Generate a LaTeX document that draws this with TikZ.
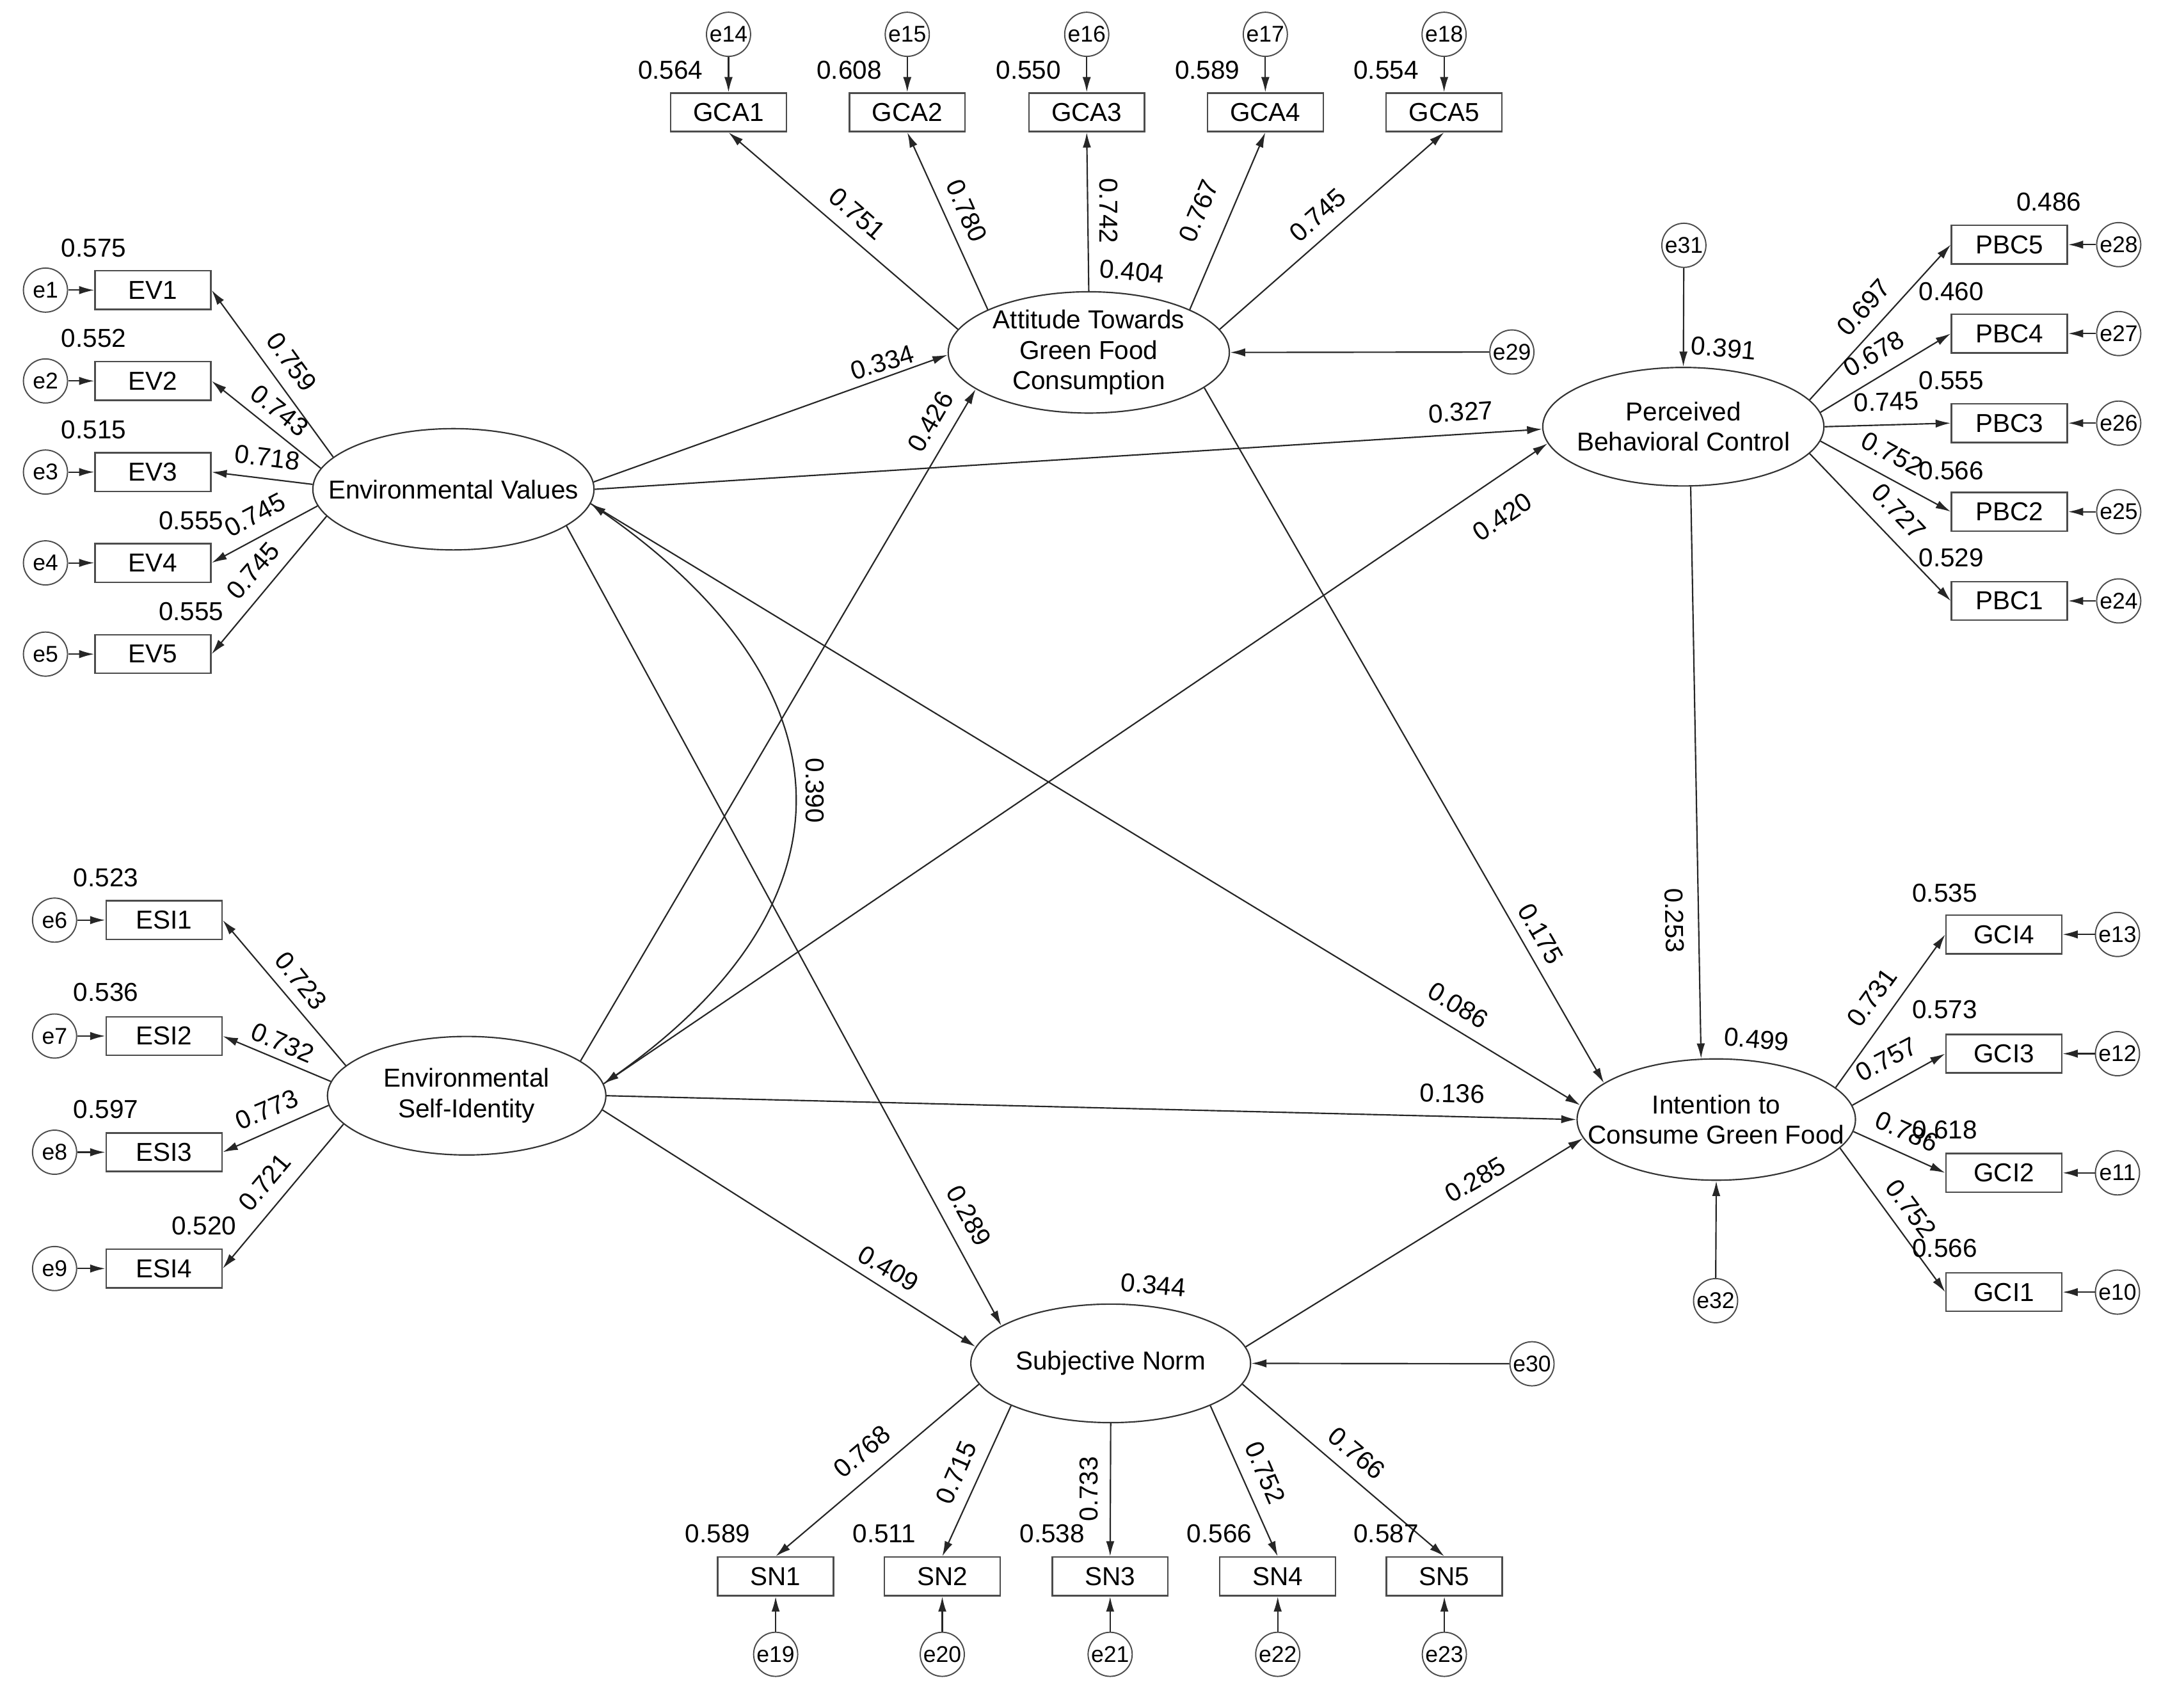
\documentclass[tikz,border=0pt]{standalone}
\usepackage{fontspec}
\setmainfont{Liberation Sans}
\usetikzlibrary{shapes.geometric,arrows.meta}
\begin{document}
\begin{tikzpicture}[x=1pt,y=-1pt,
  obs/.style={draw=black!70, line width=1.1pt, rectangle, minimum width=84pt, minimum height=28pt, inner sep=0pt, font=\fontsize{18.8}{22}\selectfont},
  err/.style={draw=black!70, line width=0.9pt, circle, minimum size=32pt, inner sep=0pt, font=\fontsize{16.5}{18}\selectfont},
  lat/.style={draw=black!80, line width=1pt, ellipse, inner sep=0pt},
  lt/.style={font=\fontsize{18.8}{22}\selectfont, align=center, inner sep=0pt},
  val/.style={font=\fontsize{18.8}{22}\selectfont, inner sep=0pt},
  pth/.style={draw=black!85, line width=1pt, -{Latex[length=11pt,width=6pt]}},
  cov/.style={draw=black!85, line width=1pt, {Latex[length=11pt,width=6pt]}-{Latex[length=11pt,width=6pt]}}
]
\useasboundingbox (0,0) rectangle (1568,1239);

% ---------- latent variables ----------
\node[lat, minimum width=204pt, minimum height=88pt] (EV) at (329,355) {};
\node[lt] (EVt) at (EV) {Environmental Values};
\node[lat, minimum width=202pt, minimum height=86pt] (ESI) at (338.6,795) {};
\node[lt] (ESIt) at (ESI) {Environmental\\Self-Identity};
\node[lat, minimum width=204pt, minimum height=88pt] (Att) at (790,255.7) {};
\node[lt] (Attt) at (Att) {Attitude Towards\\Green Food\\Consumption};
\node[lat, minimum width=204pt, minimum height=86pt] (PBC) at (1221.4,309.6) {};
\node[lt] (PBCt) at (PBC) {Perceived\\Behavioral Control};
\node[lat, minimum width=202pt, minimum height=88pt] (ICGF) at (1245.3,812.3) {};
\node[lt] (ICGFt) at (ICGF) {Intention to\\Consume Green Food};
\node[lat, minimum width=203pt, minimum height=86pt] (SN) at (805.9,989.2) {};
\node[lt] (SNt) at (SN) {Subjective Norm};

% ---------- EV indicators ----------
\node[obs] (EV1) at (111,210.5) {EV1};
\node[obs] (EV2) at (111,276.4) {EV2};
\node[obs] (EV3) at (111,342.5) {EV3};
\node[obs] (EV4) at (111,408.4) {EV4};
\node[obs] (EV5) at (111,474.6) {EV5};
\node[err] (e1) at (33,210.5) {e1};
\node[err] (e2) at (33,276.4) {e2};
\node[err] (e3) at (33,342.5) {e3};
\node[err] (e4) at (33,408.4) {e4};
\node[err] (e5) at (33,474.6) {e5};

% ---------- ESI indicators ----------
\node[obs] (ESI1) at (119,667.6) {ESI1};
\node[obs] (ESI2) at (119,751.7) {ESI2};
\node[obs] (ESI3) at (119,836) {ESI3};
\node[obs] (ESI4) at (119,920.4) {ESI4};
\node[err] (e6) at (39.6,667.6) {e6};
\node[err] (e7) at (39.6,751.7) {e7};
\node[err] (e8) at (39.6,836) {e8};
\node[err] (e9) at (39.6,920.4) {e9};

% ---------- GCA indicators ----------
\node[obs] (GCA1) at (528.6,81.5) {GCA1};
\node[obs] (GCA2) at (658.3,81.5) {GCA2};
\node[obs] (GCA3) at (788.5,81.5) {GCA3};
\node[obs] (GCA4) at (918.1,81.5) {GCA4};
\node[obs] (GCA5) at (1047.8,81.5) {GCA5};
\node[err] (e14) at (528.6,24.9) {e14};
\node[err] (e15) at (658.3,24.9) {e15};
\node[err] (e16) at (788.5,24.9) {e16};
\node[err] (e17) at (918.1,24.9) {e17};
\node[err] (e18) at (1047.8,24.9) {e18};

% ---------- PBC indicators ----------
\node[obs] (PBC5) at (1458,177.5) {PBC5};
\node[obs] (PBC4) at (1458,242) {PBC4};
\node[obs] (PBC3) at (1458,307) {PBC3};
\node[obs] (PBC2) at (1458,371.3) {PBC2};
\node[obs] (PBC1) at (1458,436) {PBC1};
\node[err] (e28) at (1537.3,177.5) {e28};
\node[err] (e27) at (1537.3,242) {e27};
\node[err] (e26) at (1537.3,307) {e26};
\node[err] (e25) at (1537.3,371.3) {e25};
\node[err] (e24) at (1537.3,436) {e24};

% ---------- GCI indicators ----------
\node[obs] (GCI4) at (1454,678) {GCI4};
\node[obs] (GCI3) at (1454,764.5) {GCI3};
\node[obs] (GCI2) at (1454,851) {GCI2};
\node[obs] (GCI1) at (1454,937.5) {GCI1};
\node[err] (e13) at (1536.4,678) {e13};
\node[err] (e12) at (1536.4,764.5) {e12};
\node[err] (e11) at (1536.4,851) {e11};
\node[err] (e10) at (1536.4,937.5) {e10};

% ---------- SN indicators ----------
\node[obs] (SN1) at (562.8,1143.8) {SN1};
\node[obs] (SN2) at (683.7,1143.8) {SN2};
\node[obs] (SN3) at (805.5,1143.8) {SN3};
\node[obs] (SN4) at (927.1,1143.8) {SN4};
\node[obs] (SN5) at (1048,1143.8) {SN5};
\node[err] (e19) at (562.8,1200.3) {e19};
\node[err] (e20) at (683.7,1200.3) {e20};
\node[err] (e21) at (805.5,1200.3) {e21};
\node[err] (e22) at (927.1,1200.3) {e22};
\node[err] (e23) at (1048,1200.3) {e23};

% ---------- disturbances ----------
\node[err] (e29) at (1097,255.4) {e29};
\node[err] (e30) at (1111.6,989.5) {e30};
\node[err] (e31) at (1221.8,178) {e31};
\node[err] (e32) at (1244.8,943.7) {e32};

% ---------- error arrows ----------
\foreach \e/\o in {e1/EV1,e2/EV2,e3/EV3,e4/EV4,e5/EV5,e6/ESI1,e7/ESI2,e8/ESI3,e9/ESI4,
  e14/GCA1,e15/GCA2,e16/GCA3,e17/GCA4,e18/GCA5,
  e28/PBC5,e27/PBC4,e26/PBC3,e25/PBC2,e24/PBC1,
  e13/GCI4,e12/GCI3,e11/GCI2,e10/GCI1,
  e19/SN1,e20/SN2,e21/SN3,e22/SN4,e23/SN5}
  \draw[pth] (\e) -- (\o);
\draw[pth] (e29) -- (Att.0);
\draw[pth] (e30) -- (SN.0);
\draw[pth] (e31) -- (PBC.90);
\draw[pth] (e32) -- (ICGF.270);

% ---------- loadings ----------
\draw[pth] (EV.165.3) -- (EV1.east);
\draw[pth] (EV.171.4) -- (EV2.east);
\draw[pth] (EV.178.4) -- (EV3.east);
\draw[pth] (EV.187.1) -- (EV4.east);
\draw[pth] (EV.192.9) -- (EV5.east);
\draw[pth] (ESI.166.7) -- (ESI1.east);
\draw[pth] (ESI.174.5) -- (ESI2.east);
\draw[pth] (ESI.184.5) -- (ESI3.east);
\draw[pth] (ESI.193.4) -- (ESI4.east);
\draw[pth] (Att.170.2) -- (GCA1.south);
\draw[pth] (Att.157.3) -- (GCA2.south);
\draw[pth] (Att.90) -- (GCA3.south);
\draw[pth] (Att.23.5) -- (GCA4.south);
\draw[pth] (Att.10.4) -- (GCA5.south);
\draw[pth] (PBC.12.2) -- (PBC5.west);
\draw[pth] (PBC.6.4) -- (PBC4.west);
\draw[pth] (PBC.0) -- (PBC3.west);
\draw[pth] (PBC.-6.4) -- (PBC2.west);
\draw[pth] (PBC.-12.8) -- (PBC1.west);
\draw[pth] (ICGF.15.3) -- (GCI4.west);
\draw[pth] (ICGF.6.4) -- (GCI3.west);
\draw[pth] (ICGF.-5.5) -- (GCI2.west);
\draw[pth] (ICGF.-13.9) -- (GCI1.west);
\draw[pth] (SN.189.6) -- (SN1.north);
\draw[pth] (SN.203.3) -- (SN2.north);
\draw[pth] (SN.270) -- (SN3.north);
\draw[pth] (SN.-23.3) -- (SN4.north);
\draw[pth] (SN.-9.6) -- (SN5.north);

% ---------- structural paths ----------
\draw[pth] (EV.3) -- (Att.181);
\draw[pth] (EV.0) -- (PBC.181);
\draw[pth] (EV.-6) -- (ICGF.174);
\draw[pth] (EV.-18.4) -- (SN.161);
\draw[pth] (ESI.17.2) -- (Att.198);
\draw[pth] (ESI.5.5) -- (PBC.187);
\draw[pth] (ESI.0) -- (ICGF.180);
\draw[pth] (ESI.-6.5) -- (SN.173);
\draw[pth] (Att.-17.6) -- (ICGF.162);
\draw[pth] (SN.7.2) -- (ICGF.188);
\draw[pth] (PBC.-83) -- (ICGF.104);
\draw[cov] (EV.-6) .. controls (619.4,497.9) and (626.4,653.6) .. (ESI.5.5);

% ---------- squared multiple correlations ----------
\node[val] (r1) at (68,180) {0.575};
\node[val] (r2) at (68,245.6) {0.552};
\node[val] (r3) at (68,311.6) {0.515};
\node[val] (r4) at (138.7,377.7) {0.555};
\node[val] (r5) at (138.7,443.7) {0.555};
\node[val] (r6) at (76.8,636.7) {0.523};
\node[val] (r7) at (76.8,719.9) {0.536};
\node[val] (r8) at (76.8,805.1) {0.597};
\node[val] (r9) at (148,889.4) {0.520};
\node[val] (r14) at (486.5,50.7) {0.564};
\node[val] (r15) at (616.2,50.7) {0.608};
\node[val] (r16) at (746.3,50.7) {0.550};
\node[val] (r17) at (876,50.7) {0.589};
\node[val] (r18) at (1005.7,50.7) {0.554};
\node[val] (r28) at (1486.6,146.3) {0.486};
\node[val] (r27) at (1415.8,211.7) {0.460};
\node[val] (r26) at (1415.8,276) {0.555};
\node[val] (r25) at (1415.8,341.4) {0.566};
\node[val] (r24) at (1415.8,404.8) {0.529};
\node[val] (r13) at (1411,647.8) {0.535};
\node[val] (r12) at (1411,732.7) {0.573};
\node[val] (r11) at (1411,819.8) {0.618};
\node[val] (r10) at (1411,905.7) {0.566};
\node[val] (r19) at (520.7,1112.8) {0.589};
\node[val] (r20) at (641.6,1112.8) {0.511};
\node[val] (r21) at (763.4,1112.8) {0.538};
\node[val] (r22) at (884.8,1112.8) {0.566};
\node[val] (r23) at (1005.7,1112.8) {0.587};
\node[val, rotate=-5] (rAtt) at (821.3,197) {0.404};
\node[val, rotate=-5] (rPBC) at (1250.7,252.6) {0.391};
\node[val, rotate=-5] (rICGF) at (1274.6,753.9) {0.499};
\node[val, rotate=-5] (rSN) at (836.9,932.2) {0.344};

% ---------- loading labels ----------
\node[val, rotate=-54] (l1) at (211.7,262.7) {0.759};
\node[val, rotate=-38.5] (l2) at (202.8,297.9) {0.743};
\node[val, rotate=-7] (l3) at (194,332) {0.718};
\node[val, rotate=27.6] (l4) at (185,373.6) {0.745};
\node[val, rotate=49] (l5) at (183.6,414) {0.745};
\node[val, rotate=-51] (l6) at (218.4,711.5) {0.723};
\node[val, rotate=-23] (l7) at (205.2,756.7) {0.732};
\node[val, rotate=23] (l8) at (193.5,805.1) {0.773};
\node[val, rotate=50] (l9) at (192,857.8) {0.721};
\node[val, rotate=-41] (l14) at (622,155) {0.751};
\node[val, rotate=-66] (l15) at (701.3,153) {0.780};
\node[val, rotate=-90] (l16) at (804.5,153) {0.742};
\node[val, rotate=67] (l17) at (869.7,153) {0.767};
\node[val, rotate=41.6] (l18) at (956,156) {0.745};
\node[val, rotate=48] (l28) at (1352.2,223) {0.697};
\node[val, rotate=30.6] (l27) at (1359.7,256.7) {0.678};
\node[val, rotate=2] (l26) at (1368.7,291.4) {0.745};
\node[val, rotate=-28] (l25) at (1373,329.2) {0.752};
\node[val, rotate=-46.6] (l24) at (1377.6,371) {0.727};
\node[val, rotate=54] (l13) at (1358.2,723.7) {0.731};
\node[val, rotate=28] (l12) at (1368.7,768.4) {0.757};
\node[val, rotate=-23.6] (l11) at (1383.6,820.9) {0.786};
\node[val, rotate=-53] (l10) at (1386.6,876.7) {0.752};
\node[val, rotate=40.4] (l19) at (625.4,1053.3) {0.768};
\node[val, rotate=66.6] (l20) at (693.7,1068.4) {0.715};
\node[val, rotate=90] (l21) at (789.9,1080.3) {0.733};
\node[val, rotate=-66.6] (l22) at (918.1,1068.4) {0.752};
\node[val, rotate=-40.4] (l23) at (984.3,1054.4) {0.766};

% ---------- structural labels ----------
\node[val, rotate=16.7] (s1) at (640.2,263) {0.334};
\node[val, rotate=3.7] (s2) at (1060,299) {0.327};
\node[val, rotate=59.6] (s3) at (675,306) {0.426};
\node[val, rotate=34] (s4) at (1090,375) {0.420};
\node[val, rotate=-31] (s5) at (1058,729.5) {0.086};
\node[val, rotate=-60] (s6) at (1118,677.5) {0.175};
\node[val, rotate=-1.4] (s7) at (1053.8,793.4) {0.136};
\node[val, rotate=30] (s8) at (1070.4,856) {0.285};
\node[val, rotate=-61] (s9) at (703,882) {0.289};
\node[val, rotate=-30.7] (s10) at (644.6,920.3) {0.409};
\node[val, rotate=-89] (s11) at (1214.9,667.9) {0.253};
\node[val, rotate=-90] (s12) at (591.5,573.6) {0.390};
\end{tikzpicture}
\end{document}
